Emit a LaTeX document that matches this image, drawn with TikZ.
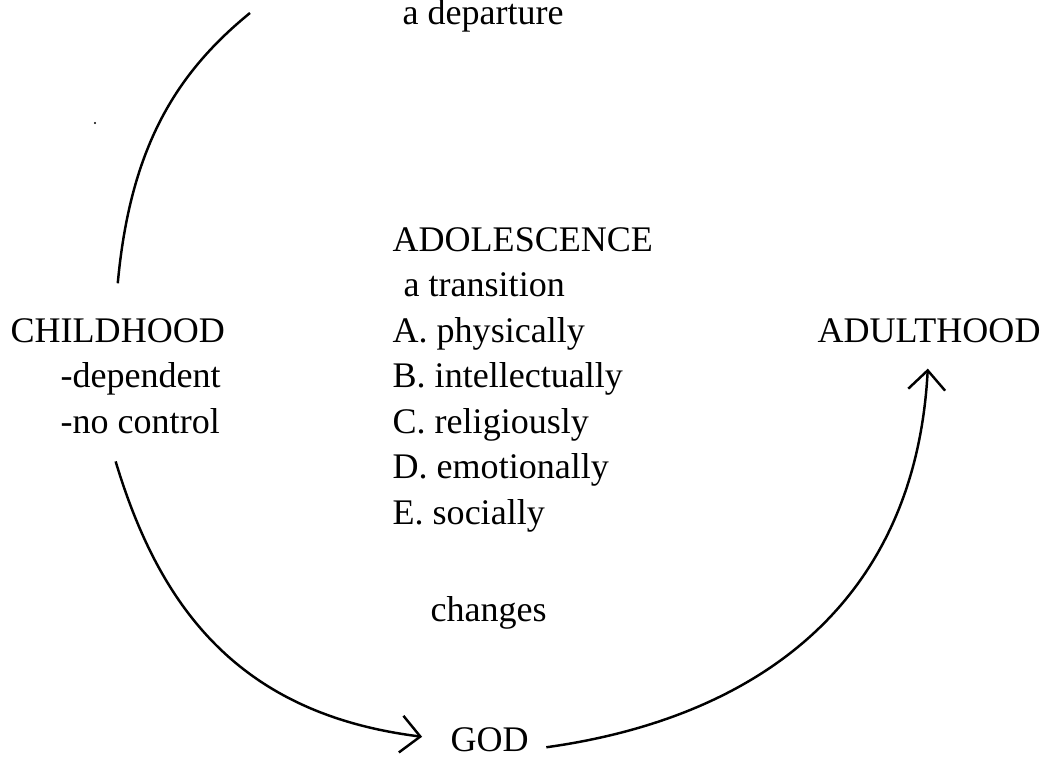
\documentclass[tikz,border=0pt]{standalone}
\usepackage{fontspec}
\setmainfont{Liberation Serif}
\usetikzlibrary{arrows.meta}

\tikzset{
    txt/.style={anchor=base west, inner sep=0pt, font=\fontsize{10.25}{12}\selectfont},
    flow/.style={line width=0.7pt, -{Straight Barb[length=5.5pt, width=10.5pt, line width=0.7pt]}}
}

\begin{document}
\begin{tikzpicture}
            \useasboundingbox (0, 0) rectangle (10.58, 7.59);

            \node[txt] (departure) at (4.02, 7.34) {a departure};

            \node[txt] (adol) at (3.92, 5.07) {ADOLESCENCE};
            \node[txt] (trans) at (4.03, 4.62) {a transition};
            \node[txt] (physic) at (3.92, 4.16) {A. physically};
            \node[txt] (intel) at (3.92, 3.71) {B. intellectually};
            \node[txt] (relig) at (3.92, 3.25) {C. religiously};
            \node[txt] (emot) at (3.92, 2.80) {D. emotionally};
            \node[txt] (social) at (3.92, 2.34) {E. socially};

            \node[txt] (changes) at (4.30, 1.37) {changes};

            \node[txt] (child) at (0.10, 4.16) {CHILDHOOD};
            \node[txt] (depend) at (0.60, 3.71) {-dependent};
            \node[txt] (nocontrol) at (0.60, 3.25) {-no control};

            \node[txt] (adult) at (8.17, 4.16) {ADULTHOOD};

            \node[txt] (god) at (4.50, 0.07) {GOD};

            \coordinate (depart end) at (2.50, 7.46);

            \fill (0.95, 6.36) circle[radius=0.012];

            \draw[line width=0.7pt] ([yshift=10pt]child.north) .. controls (1.30, 6.10) and (1.75, 6.85) .. (depart end);

            \draw[flow, shorten >=8pt] ([xshift=-7pt, yshift=-7.5pt]nocontrol.south) .. controls (1.60, 1.50) and (2.40, 0.45) .. (god.west);

            \draw[flow, shorten >=7pt] ([xshift=4.8pt, yshift=-2pt]god.east) .. controls (7.50, 0.40) and (9.15, 1.50) .. (adult.south);
        \end{tikzpicture}
\end{document}
